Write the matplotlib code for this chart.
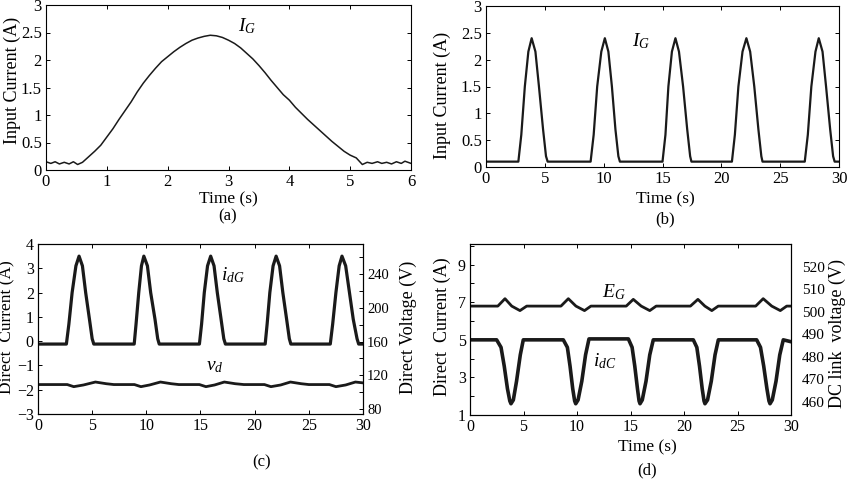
import numpy as np
import matplotlib as mpl
mpl.use("agg")
import matplotlib.pyplot as plt
from matplotlib.ticker import MultipleLocator

plt.rcParams['font.family'] = ['Liberation Serif', 'DejaVu Serif']
plt.rcParams['mathtext.fontset'] = 'custom'
plt.rcParams['mathtext.rm'] = 'Liberation Serif'
plt.rcParams['mathtext.it'] = 'Liberation Serif:italic'
plt.rcParams['xtick.direction'] = 'in'
plt.rcParams['ytick.direction'] = 'in'

# (a) single input current pulse, 0..6 s
ta = [0, 0.08, 0.15, 0.22, 0.3, 0.38, 0.45, 0.52, 0.6, 0.7, 0.8, 0.9, 1.0, 1.1, 1.2, 1.3,
      1.4, 1.5, 1.6, 1.7, 1.8, 1.9, 2.0, 2.1, 2.2, 2.3, 2.4, 2.5, 2.6, 2.7, 2.8, 2.9, 3.0,
      3.1, 3.2, 3.3, 3.4, 3.5, 3.6, 3.7, 3.8, 3.9, 4.0, 4.1, 4.2, 4.3, 4.4, 4.5, 4.6, 4.7,
      4.8, 4.9, 5.0, 5.1, 5.2, 5.28, 5.36, 5.45, 5.52, 5.6, 5.68, 5.76, 5.84, 5.9, 6.0]
ia = [0.15, 0.12, 0.15, 0.11, 0.14, 0.11, 0.15, 0.1, 0.14, 0.24, 0.34, 0.45, 0.6, 0.75,
      0.92, 1.08, 1.24, 1.42, 1.58, 1.72, 1.85, 1.97, 2.06, 2.15, 2.23, 2.3, 2.36, 2.4,
      2.43, 2.45, 2.44, 2.41, 2.36, 2.3, 2.22, 2.12, 2.02, 1.9, 1.77, 1.63, 1.5, 1.37,
      1.27, 1.14, 1.03, 0.92, 0.82, 0.72, 0.62, 0.52, 0.43, 0.34, 0.27, 0.22, 0.1, 0.14,
      0.12, 0.15, 0.12, 0.14, 0.11, 0.15, 0.12, 0.16, 0.12]

# (b) input current, five pulses, 0..30 s
tb = [0, 2.75, 3.0, 3.3, 3.6, 3.88, 4.2, 4.5, 4.85, 5.1, 5.24,
      8.89, 9.15, 9.45, 9.8, 10.1, 10.4, 10.7, 11.0, 11.25, 11.38,
      15.0, 15.25, 15.5, 15.8, 16.1, 16.4, 16.75, 17.1, 17.35, 17.46,
      20.9, 21.15, 21.45, 21.8, 22.13, 22.45, 22.8, 23.15, 23.4, 23.5,
      27.09, 27.35, 27.65, 28.0, 28.28, 28.6, 28.9, 29.25, 29.5, 29.63, 30]
ib = [0.1, 0.1, 0.6, 1.5, 2.15, 2.4, 2.15, 1.5, 0.7, 0.2, 0.1,
      0.1, 0.6, 1.5, 2.15, 2.4, 2.15, 1.5, 0.7, 0.2, 0.1,
      0.1, 0.6, 1.5, 2.15, 2.4, 2.15, 1.5, 0.7, 0.2, 0.1,
      0.1, 0.6, 1.5, 2.15, 2.4, 2.15, 1.5, 0.7, 0.2, 0.1,
      0.1, 0.6, 1.5, 2.15, 2.4, 2.15, 1.5, 0.7, 0.2, 0.1, 0.1]

# (c) direct current i_dG (A) and direct voltage v_d (V)
tc = [0, 2.62, 2.85, 3.15, 3.5, 3.79, 4.1, 4.4, 4.75, 5.0, 5.15,
      8.88, 9.05, 9.3, 9.55, 9.77, 10.1, 10.4, 10.8, 11.05, 11.19,
      14.9, 15.1, 15.35, 15.65, 15.94, 16.25, 16.55, 16.9, 17.15, 17.3,
      20.97, 21.15, 21.4, 21.7, 21.98, 22.3, 22.6, 22.95, 23.2, 23.34,
      26.98, 27.2, 27.5, 27.8, 28.06, 28.4, 28.75, 29.1, 29.45, 29.6, 30]
idg = [-0.12, -0.12, 0.7, 2.0, 3.1, 3.5, 3.1, 2.0, 0.9, 0.1, -0.12,
       -0.12, 0.7, 2.0, 3.1, 3.5, 3.1, 2.0, 0.9, 0.1, -0.12,
       -0.12, 0.7, 2.0, 3.1, 3.5, 3.1, 2.0, 0.9, 0.1, -0.12,
       -0.12, 0.7, 2.0, 3.1, 3.5, 3.1, 2.0, 0.9, 0.1, -0.12,
       -0.12, 0.7, 2.0, 3.1, 3.5, 3.1, 2.0, 0.9, 0.1, -0.12, -0.12]
tv = [0, 2.7, 3.3, 4.2, 5.3, 6.3, 7.0, 8.9, 9.5, 10.3, 11.3, 12.3, 13.0,
      14.9, 15.5, 16.3, 17.2, 18.2, 19.0, 20.9, 21.5, 22.4, 23.3, 24.3, 25.0,
      26.9, 27.5, 28.4, 29.3, 30]
vd = [109, 109, 106.5, 108.5, 112, 110, 109, 109, 106.5, 108.5, 112, 110, 109,
      109, 106.5, 108.5, 112, 110, 109, 109, 106.5, 108.5, 112, 110, 109,
      109, 106.5, 108.5, 112, 111]

# (d) DC current i_dC (A) and DC link voltage E_G (V)
td = [0, 2.49, 2.9, 3.2, 3.5, 3.72, 3.83, 4.05, 4.35, 4.7, 4.98,
      8.72, 9.1, 9.35, 9.6, 9.78, 9.88, 10.1, 10.45, 10.8, 11.12,
      14.8, 15.15, 15.4, 15.65, 15.8, 15.89, 16.1, 16.45, 16.8, 17.13,
      20.87, 21.2, 21.45, 21.7, 21.87, 21.96, 22.2, 22.55, 22.9, 23.21,
      26.79, 27.15, 27.45, 27.75, 27.94, 28.04, 28.25, 28.6, 28.95, 29.28, 30]
idc = [5.0, 5.0, 4.6, 3.6, 2.4, 1.75, 1.6, 1.8, 2.8, 4.2, 5.0,
       5.0, 4.6, 3.6, 2.4, 1.75, 1.6, 1.8, 2.8, 4.2, 5.05,
       5.05, 4.6, 3.6, 2.4, 1.75, 1.6, 1.8, 2.8, 4.2, 5.0,
       5.0, 4.6, 3.6, 2.4, 1.75, 1.6, 1.8, 2.8, 4.2, 5.0,
       5.0, 4.6, 3.6, 2.4, 1.75, 1.6, 1.8, 2.8, 4.2, 5.0, 4.9]
te = [0, 2.6, 3.27, 3.9, 4.67, 5.3,
      8.5, 9.19, 9.9, 10.7, 11.3,
      14.6, 15.26, 16.0, 16.8, 17.4,
      20.6, 21.3, 21.95, 22.6, 23.2,
      26.7, 27.4, 28.2, 29.0, 29.6, 30]
eg = [502.5, 502.5, 505.8, 502.5, 500.5, 502.5,
      502.5, 505.8, 502.5, 500.5, 502.5,
      502.5, 505.5, 502.5, 500.5, 502.5,
      502.5, 505.5, 502.5, 500.5, 502.5,
      502.5, 505.8, 502.5, 500.5, 502.5, 502.5]

W, H = 850, 479
fig = plt.figure(figsize=(8.5, 4.79), dpi=100)


def rect(l, t, r, b):
    return [l / W, 1 - b / H, (r - l) / W, (b - t) / H]


def style(ax, right=True, size=12):
    ax.tick_params(labelsize=size, length=3, width=0.7, top=True, right=right, pad=3)
    ax.tick_params(which='minor', length=3, width=0.7, top=False, right=right)
    for s in ax.spines.values():
        s.set_linewidth(0.8)


lc = '#1a1a1a'

# (a)
ax1 = fig.add_axes(rect(46, 5, 411, 170))
ax1.plot(ta, ia, color=lc, lw=1.1)
ax1.set_xlim(0, 6)
ax1.set_ylim(0, 3)
ax1.set_yticks([0, 0.5, 1, 1.5, 2, 2.5, 3], ['0', '0.5', '1', '1.5', '2', '2.5', '3'])
style(ax1)
ax1.text(3.3, 2.52, '$I_G$', fontsize=14, ha='center')

# (b)
ax2 = fig.add_axes(rect(486, 6, 839, 167))
ax2.plot(tb, ib, color=lc, lw=1.6)
ax2.set_xlim(0, 30)
ax2.set_ylim(0, 3)
ax2.set_xticks([0, 5, 10, 15, 20, 25, 30])
ax2.set_yticks([0, 0.5, 1, 1.5, 2, 2.5, 3], ['0', '0.5', '1', '1.5', '2', '2.5', '3'])
style(ax2)
ax2.text(13.2, 2.25, '$I_G$', fontsize=14, ha='center')

# (c)
ax3 = fig.add_axes(rect(38, 244, 363, 414))
ax3.plot(tc, idg, color=lc, lw=2.3)
ax3.set_xlim(0, 30)
ax3.set_ylim(-3, 4)
ax3.set_xticks([0, 5, 10, 15, 20, 25, 30])
ax3.set_yticks(range(-3, 5))
style(ax3, right=False, size=11.5)
ax3.text(18.0, 2.5, '$i_{dG}$', fontsize=14, ha='center')
ax3.text(16.3, -1.2, '$v_d$', fontsize=14, ha='center')
ax3r = ax3.twinx()
ax3r.plot(tv, vd, color=lc, lw=2.0)
ax3r.set_ylim(74.1, 275.6)
ax3r.set_yticks([80, 120, 160, 200, 240])
ax3r.yaxis.set_minor_locator(MultipleLocator(20))
ax3r.tick_params(labelsize=10.5, length=3, width=0.7, pad=3)
ax3r.tick_params(which='minor', length=3, width=0.7)

# (d)
ax4 = fig.add_axes(rect(470, 244, 791, 415))
ax4.plot(td, idc, color=lc, lw=2.6)
ax4.set_xlim(0, 30)
ax4.set_ylim(1, 10.1)
ax4.set_xticks([0, 5, 10, 15, 20, 25, 30])
ax4.set_yticks([1, 3, 5, 7, 9])
ax4.yaxis.set_minor_locator(MultipleLocator(1))
style(ax4, right=False, size=11.5)
ax4.text(12.6, 3.6, '$i_{dC}$', fontsize=14, ha='center')
ax4.text(13.4, 7.25, '$E_G$', fontsize=14, ha='center')
ax4r = ax4.twinx()
ax4r.plot(te, eg, color=lc, lw=2.0)
ax4r.set_ylim(454.1, 530.1)
ax4r.set_yticks([460, 470, 480, 490, 500, 510, 520])
ax4r.tick_params(labelsize=11, length=0, pad=8)

# axis titles and panel letters
fs = 13
fig.text(12 / W, 1 - 80 / H, 'Input Current (A)', rotation=90, ha='center', va='center', fontsize=fs)
fig.text(442 / W, 1 - 95 / H, 'Input Current (A)', rotation=90, ha='center', va='center', fontsize=fs)
fig.text(7 / W, 1 - 327 / H, 'Direct  Current (A)', rotation=90, ha='center', va='center', fontsize=12.5)
fig.text(408 / W, 1 - 327 / H, 'Direct Voltage (V)', rotation=90, ha='center', va='center', fontsize=fs)
fig.text(442 / W, 1 - 327 / H, 'Direct  Current (A)', rotation=90, ha='center', va='center', fontsize=fs)
fig.text(837 / W, 1 - 333 / H, 'DC link  voltage (V)', rotation=90, ha='center', va='center', fontsize=fs)

fig.text(228 / W, 1 - 199 / H, 'Time (s)', ha='center', va='center', fontsize=12.5)
fig.text(228 / W, 1 - 216 / H, '(a)', ha='center', va='center', fontsize=12)
fig.text(665 / W, 1 - 199 / H, 'Time (s)', ha='center', va='center', fontsize=12.5)
fig.text(665 / W, 1 - 219 / H, '(b)', ha='center', va='center', fontsize=12)
fig.text(262 / W, 1 - 462 / H, '(c)', ha='center', va='center', fontsize=12)
fig.text(647 / W, 1 - 447 / H, 'Time (s)', ha='center', va='center', fontsize=12.5)
fig.text(647 / W, 1 - 470 / H, '(d)', ha='center', va='center', fontsize=12)

plt.savefig("out.png", dpi=100)
